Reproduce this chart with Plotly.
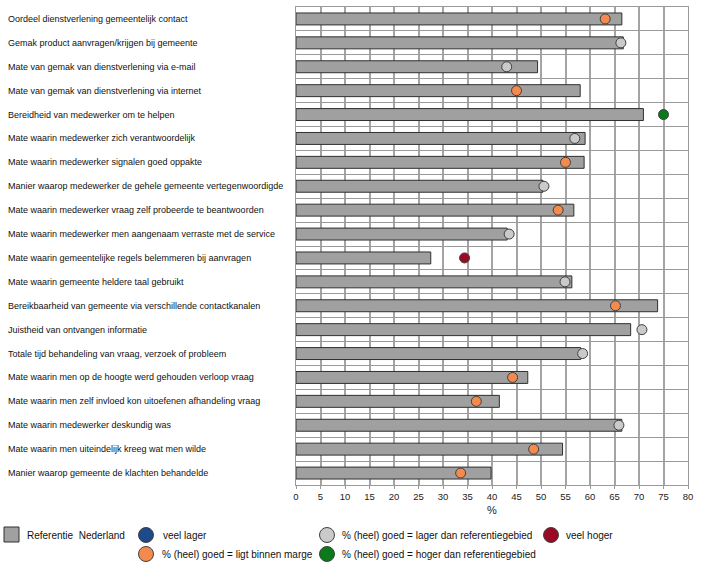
import plotly.graph_objects as go

categories = [
    "Oordeel dienstverlening gemeentelijk contact",
    "Gemak product aanvragen/krijgen bij gemeente",
    "Mate van gemak van dienstverlening via e-mail",
    "Mate van gemak van dienstverlening via internet",
    "Bereidheid van medewerker om te helpen",
    "Mate waarin medewerker zich verantwoordelijk",
    "Mate waarin medewerker signalen goed oppakte",
    "Manier waarop medewerker de gehele gemeente vertegenwoordigde",
    "Mate waarin medewerker vraag zelf probeerde te beantwoorden",
    "Mate waarin medewerker men aangenaam verraste met de service",
    "Mate waarin gemeentelijke regels belemmeren bij aanvragen",
    "Mate waarin gemeente heldere taal gebruikt",
    "Bereikbaarheid van gemeente via verschillende contactkanalen",
    "Juistheid van ontvangen informatie",
    "Totale tijd behandeling van vraag, verzoek of probleem",
    "Mate waarin men op de hoogte werd gehouden verloop vraag",
    "Mate waarin men zelf invloed kon uitoefenen afhandeling vraag",
    "Mate waarin medewerker deskundig was",
    "Mate waarin men uiteindelijk kreeg wat men wilde",
    "Manier waarop gemeente de klachten behandelde",
]

referentie_nederland = [66.5, 66.8, 49.3, 58.0, 70.9, 59.0, 58.8, 50.4, 56.7, 43.1,
                        27.5, 56.3, 73.8, 68.3, 58.1, 47.3, 41.5, 66.5, 54.4, 39.8]
gemeente = [63.1, 66.3, 43.0, 45.0, 75.0, 56.9, 55.0, 50.6, 53.5, 43.5,
            34.4, 54.9, 65.2, 70.6, 58.5, 44.2, 36.8, 65.9, 48.5, 33.6]
status = ["marge", "lager", "lager", "marge", "hoger", "lager", "marge", "lager", "marge", "lager",
          "veel hoger", "lager", "marge", "lager", "lager", "marge", "marge", "lager", "marge", "marge"]

status_colors = {
    "veel lager": "#1c4a8a",
    "lager": "#cacaca",
    "veel hoger": "#9a0a25",
    "marge": "#f58a4e",
    "hoger": "#0b7a1a",
}

legend_labels = {
    "referentie": "Referentie  Nederland",
    "veel lager": "veel lager",
    "lager": "% (heel) goed = lager dan referentiegebied",
    "veel hoger": "veel hoger",
    "marge": "% (heel) goed = ligt binnen marge",
    "hoger": "% (heel) goed = hoger dan referentiegebied",
}

W, H = 718, 566
ML, MR, MT, MB = 296, 30, 7, 81
PW, PH = W - ML - MR, H - MT - MB


def px(x):
    return (x - ML) / PW


def py(y):
    return (H - MB - y) / PH


FONT = "Liberation Sans, Arial, sans-serif"
GRID = "#9a9a9a"
VGRID = "#a4a4a4"

fig = go.Figure()
fig.add_trace(go.Bar(
    x=referentie_nederland, y=categories, orientation="h",
    marker=dict(color="#a0a0a0", line=dict(color="#303030", width=1)),
    width=0.5, showlegend=False,
))
fig.add_trace(go.Scatter(
    x=gemeente, y=categories, mode="markers",
    marker=dict(size=10, color=[status_colors[s] for s in status],
                line=dict(color="#404040", width=1)),
    showlegend=False,
))

annotations = []
for c in categories:
    annotations.append(dict(x=px(6), y=c, xref="paper", yref="y", text=c,
                            showarrow=False, xanchor="left", yanchor="middle",
                            font=dict(size=9, color="#111", family=FONT)))

shapes = []
LF = 10
shapes.append(dict(type="rect", xref="paper", yref="paper",
                   x0=px(4), x1=px(19), y0=py(542), y1=py(527),
                   fillcolor="#a0a0a0", line=dict(color="#303030", width=1)))
annotations.append(dict(x=px(25), y=py(535), xref="paper", yref="paper",
                        text=legend_labels["referentie"].replace("  ", "&nbsp; "),
                        showarrow=False, xanchor="left", yanchor="middle",
                        font=dict(size=LF, color="#111", family=FONT)))
legend_items = [
    ("veel lager", 146, 535, 161),
    ("lager", 327, 535, 340),
    ("veel hoger", 551, 535, 564),
    ("marge", 146, 554, 160),
    ("hoger", 327, 554, 340),
]
r = 7.5
for key, cx, cy, tx in legend_items:
    shapes.append(dict(type="circle", xref="paper", yref="paper",
                       x0=px(cx - r), x1=px(cx + r), y0=py(cy + r), y1=py(cy - r),
                       fillcolor=status_colors[key], line=dict(color="#404040", width=1)))
    annotations.append(dict(x=px(tx), y=py(cy), xref="paper", yref="paper",
                            text=legend_labels[key],
                            showarrow=False, xanchor="left", yanchor="middle",
                            font=dict(size=LF, color="#111", family=FONT)))

fig.update_layout(
    width=W, height=H,
    margin=dict(l=ML, r=MR, t=MT, b=MB),
    plot_bgcolor="white", paper_bgcolor="white",
    font=dict(family=FONT, size=9.5, color="#222"),
    annotations=annotations, shapes=shapes,
    showlegend=False,
    xaxis=dict(
        type="linear", range=[0, 80], tickmode="linear", tick0=0, dtick=5,
        showgrid=True, gridcolor=VGRID, gridwidth=2,
        showline=True, linecolor=GRID, mirror=True,
        ticks="outside", ticklen=3, tickcolor=GRID,
        zeroline=False, title=dict(text="%", standoff=4),
    ),
    yaxis=dict(
        type="category",
        categoryorder="array", categoryarray=categories,
        range=[len(categories) - 0.5, -0.5], autorange=False,
        tickson="boundaries", showgrid=True, gridcolor=GRID, gridwidth=1,
        showline=True, linecolor=GRID, mirror=True,
        showticklabels=False, ticks="",
    ),
)

fig.write_html("out.html")
